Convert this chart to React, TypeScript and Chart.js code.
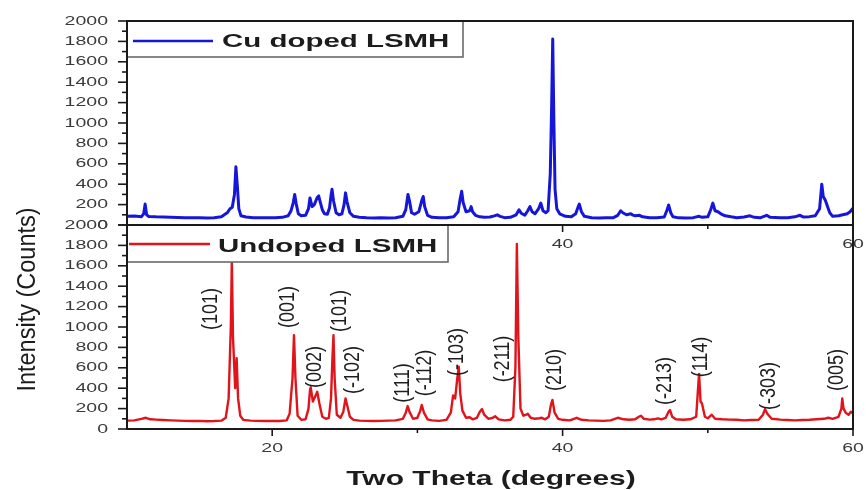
import React, { useEffect, useRef } from "react";
import { Chart, registerables } from "chart.js";
Chart.register(...registerables);

// ---------- data ----------
const cuTheta = [10.0, 10.5, 11.0, 11.15, 11.25, 11.35, 11.5, 12.0, 12.5, 13.0, 13.5, 14.0, 14.5, 15.0, 15.5, 16.0, 16.5, 16.9, 17.1, 17.25, 17.4, 17.5, 17.6, 17.7, 17.85, 18.2, 18.7, 19.2, 19.7, 20.2, 20.7, 21.1, 21.3, 21.45, 21.55, 21.65, 21.8, 22.0, 22.3, 22.5, 22.6, 22.75, 22.9, 23.1, 23.2, 23.3, 23.45, 23.6, 23.8, 23.95, 24.05, 24.12, 24.22, 24.4, 24.6, 24.8, 24.95, 25.05, 25.15, 25.35, 25.6, 26.0, 26.5, 27.0, 27.5, 28.0, 28.5, 29.0, 29.2, 29.35, 29.45, 29.6, 29.8, 30.1, 30.3, 30.4, 30.5, 30.7, 31.0, 31.5, 32.0, 32.5, 32.8, 32.95, 33.05, 33.15, 33.35, 33.6, 33.7, 33.8, 34.0, 34.3, 34.6, 35.0, 35.3, 35.5, 35.7, 36.0, 36.4, 36.8, 37.0, 37.15, 37.4, 37.6, 37.75, 37.9, 38.1, 38.35, 38.5, 38.65, 38.85, 39.0, 39.15, 39.25, 39.32, 39.4, 39.48, 39.6, 39.8, 40.2, 40.6, 40.9, 41.05, 41.15, 41.3, 41.5, 42.0, 42.5, 43.0, 43.5, 43.8, 44.0, 44.15, 44.4, 44.7, 44.8, 45.0, 45.3, 45.5, 46.0, 46.5, 47.0, 47.2, 47.3, 47.45, 47.6, 48.0, 48.5, 49.0, 49.4, 49.6, 50.0, 50.2, 50.35, 50.5, 50.7, 50.9, 51.2, 51.6, 52.0, 52.5, 52.9, 53.2, 53.6, 54.05, 54.3, 55.0, 55.5, 56.0, 56.35, 56.6, 57.0, 57.4, 57.7, 57.85, 57.95, 58.1, 58.25, 58.4, 58.6, 59.0, 59.3, 59.6, 59.8, 60.0];
const cuCounts = [85, 88, 82, 110, 205, 100, 84, 80, 78, 76, 74, 72, 70, 72, 68, 72, 80, 120, 160, 175, 300, 570, 380, 160, 90, 78, 72, 70, 70, 72, 75, 90, 140, 220, 300, 210, 110, 90, 95, 160, 265, 180, 200, 270, 285, 230, 150, 110, 105, 170, 290, 350, 240, 120, 100, 110, 200, 315, 230, 120, 85, 75, 70, 68, 70, 68, 72, 85, 150, 300, 240, 120, 105, 130, 240, 280, 180, 95, 75, 70, 72, 80, 130, 260, 330, 220, 130, 140, 180, 130, 95, 80, 75, 78, 90, 100, 85, 72, 75, 100, 150, 115, 95, 140, 180, 130, 110, 160, 215, 140, 120, 140, 500, 1200, 1823, 1000, 350, 160, 110, 85, 80, 110, 170, 205, 130, 85, 72, 68, 70, 72, 95, 140, 120, 100, 110, 100, 90, 95, 80, 70, 72, 78, 150, 196, 120, 80, 70, 68, 72, 85, 75, 80, 150, 215, 140, 130, 110, 90, 80, 72, 78, 90, 75, 70, 95, 75, 70, 72, 80, 95, 78, 82, 90, 160, 400, 280, 240, 180, 120, 85, 90, 100, 110, 130, 165];

const unTheta = [10.0, 10.5, 11.0, 11.3, 11.6, 12.0, 12.5, 13.0, 13.5, 14.0, 14.5, 15.0, 15.5, 16.0, 16.5, 16.8, 17.0, 17.15, 17.22, 17.3, 17.45, 17.55, 17.65, 17.8, 18.0, 18.5, 19.0, 19.5, 20.0, 20.5, 21.0, 21.2, 21.3, 21.4, 21.5, 21.6, 21.75, 22.0, 22.3, 22.5, 22.6, 22.65, 22.8, 23.0, 23.1, 23.25, 23.45, 23.7, 23.9, 24.05, 24.15, 24.22, 24.3, 24.45, 24.7, 24.9, 25.05, 25.15, 25.35, 25.6, 26.0, 26.5, 27.0, 27.5, 28.0, 28.5, 29.0, 29.2, 29.33, 29.45, 29.7, 30.0, 30.2, 30.3, 30.45, 30.7, 31.0, 31.5, 32.0, 32.3, 32.46, 32.6, 32.75, 32.85, 32.95, 33.1, 33.35, 33.6, 33.8, 34.1, 34.3, 34.45, 34.6, 34.9, 35.2, 35.35, 35.6, 36.0, 36.4, 36.6, 36.75, 36.85, 36.95, 37.1, 37.3, 37.5, 37.6, 37.8, 38.1, 38.4, 38.56, 38.8, 39.05, 39.2, 39.3, 39.45, 39.7, 40.0, 40.5, 40.97, 41.3, 41.8, 42.3, 42.8, 43.3, 43.8, 44.2, 44.6, 45.0, 45.25, 45.4, 45.6, 46.0, 46.3, 46.57, 46.8, 47.1, 47.3, 47.4, 47.55, 47.8, 48.3, 48.8, 49.2, 49.33, 49.4, 49.5, 49.6, 49.8, 50.0, 50.27, 50.5, 51.0, 51.5, 52.0, 52.5, 53.0, 53.5, 53.8, 53.94, 54.1, 54.4, 55.0, 55.5, 56.0, 56.5, 57.0, 57.5, 58.0, 58.3, 58.6, 59.0, 59.2, 59.26, 59.35, 59.5, 59.7, 59.85, 60.0];
const unCounts = [82, 85, 100, 110, 95, 92, 88, 85, 82, 80, 78, 80, 76, 78, 82, 110, 300, 1000, 1650, 900, 400, 695, 300, 130, 90, 82, 80, 78, 80, 78, 85, 150, 330, 500, 920, 500, 130, 90, 95, 200, 380, 410, 270, 330, 365, 250, 120, 100, 110, 300, 700, 920, 500, 140, 110, 170, 300, 240, 120, 90, 82, 80, 78, 80, 82, 85, 100, 160, 225, 170, 100, 110, 180, 235, 160, 95, 85, 80, 90, 160, 330, 300, 500, 610, 350, 180, 110, 115, 95, 110, 170, 195, 140, 100, 110, 125, 95, 85, 90, 120, 600, 1813, 900, 200, 130, 140, 150, 110, 100, 105, 110, 95, 120, 240, 285, 160, 100, 90, 85, 110, 90, 85, 82, 80, 85, 110, 95, 90, 95, 120, 130, 100, 92, 95, 105, 95, 110, 170, 185, 120, 95, 90, 95, 120, 400, 540, 270, 250, 120, 105, 140, 100, 95, 92, 90, 85, 88, 90, 140, 195, 150, 100, 92, 88, 85, 88, 90, 95, 100, 110, 100, 120, 200, 300, 200, 160, 140, 170, 150];

const yTickValues = [0, 200, 400, 600, 800, 1000, 1200, 1400, 1600, 1800, 2000];
const yMinorValues = [100, 300, 500, 700, 900, 1100, 1300, 1500, 1700, 1900];
const xMajorValues = [20, 40, 60];
const xMinorValues = [30, 50];

const peakLabels = ["(101)", "(001)", "(002)", "(101)", "(-102)", "(111)", "(-112)", "(-103)", "(-211)", "(210)", "(-213)", "(114)", "(-303)", "(005)"];
const peakTheta = [15.79, 21.09, 22.95, 24.67, 25.56, 29.01, 30.52, 32.73, 35.9, 39.48, 47.05, 49.53, 54.21, 58.9];
const peakCounts = [1176, 1196, 608, 1156, 578, 451, 549, 755, 686, 578, 470, 706, 421, 578];

const topLegend = "Cu doped LSMH";
const bottomLegend = "Undoped LSMH";
const xTitle = "Two Theta (degrees)";
const yTitle = "Intensity (Counts)";

// ---------- layout ----------
const W = 866;
const H = 490;
const PLOT_L = 127;
const PLOT_R = 853;
const TOP_T = 21;
const MID = 225;
const BOT_B = 429;
const X_AXIS_H = 20;

const BLUE = "#1616d8";
const RED = "#e0141a";
const AXIS = "#1a1a1a";
const TICK_TXT = "#3a3a3a";
const SANS = "'Liberation Sans', Arial, sans-serif";

function drawText(
  ctx: CanvasRenderingContext2D,
  text: string,
  x: number,
  y: number,
  o: { font: string; sx?: number; sy?: number; align?: CanvasTextAlign; baseline?: CanvasTextBaseline; color?: string; rotate?: number }
) {
  ctx.save();
  ctx.translate(x, y);
  if (o.rotate) ctx.rotate(o.rotate);
  ctx.scale(o.sx ?? 1, o.sy ?? 1);
  ctx.font = o.font;
  ctx.fillStyle = o.color ?? "#222";
  ctx.textAlign = o.align ?? "left";
  ctx.textBaseline = o.baseline ?? "alphabetic";
  ctx.fillText(text, 0, 0);
  ctx.restore();
}

function line(ctx: CanvasRenderingContext2D, x1: number, y1: number, x2: number, y2: number) {
  ctx.beginPath();
  ctx.moveTo(x1, y1);
  ctx.lineTo(x2, y2);
  ctx.stroke();
}

type PanelCfg = {
  legend: string;
  color: string;
  box: { right: number; bottom: number; lineFrom: number; lineTo: number; lineY: number; textX: number; textBase: number };
  isBottom: boolean;
};

function makePlugin(cfg: PanelCfg) {
  return {
    id: "panelDecor",
    afterDraw(chart: any) {
      const ctx: CanvasRenderingContext2D = chart.ctx;
      const xs = chart.scales.x;
      const ys = chart.scales.y;
      const { left, right, top, bottom } = chart.chartArea;
      ctx.save();

      // legend box
      ctx.fillStyle = "#fff";
      ctx.fillRect(left, top, cfg.box.right - left, cfg.box.bottom - top);
      ctx.strokeStyle = "#6a6a6a";
      ctx.lineWidth = 1.6;
      ctx.strokeRect(left, top, cfg.box.right - left, cfg.box.bottom - top);
      ctx.strokeStyle = cfg.color;
      ctx.lineWidth = 2.5;
      line(ctx, cfg.box.lineFrom, cfg.box.lineY, cfg.box.lineTo, cfg.box.lineY);
      drawText(ctx, cfg.legend, cfg.box.textX, cfg.box.textBase, {
        font: `bold 19px ${SANS}`,
        sx: 1.55,
        color: "#1c1c1c",
      });

      // frame
      ctx.strokeStyle = AXIS;
      ctx.lineWidth = 2;
      ctx.strokeRect(left, top, right - left, bottom - top);

      // y ticks
      ctx.lineWidth = 1.6;
      yTickValues.forEach((v) => {
        const py = ys.getPixelForValue(v);
        line(ctx, left - 9, py, left, py);
        drawText(ctx, String(v), left - 19, py, {
          font: `13px ${SANS}`,
          sx: 1.5,
          align: "right",
          baseline: "middle",
          color: TICK_TXT,
        });
      });
      yMinorValues.forEach((v) => {
        const py = ys.getPixelForValue(v);
        line(ctx, left - 5, py, left + 1, py);
      });

      // x ticks
      xMajorValues.forEach((v) => {
        const px = xs.getPixelForValue(v);
        line(ctx, px, bottom, px, bottom + 7);
        drawText(ctx, String(v), px, bottom + 19, {
          font: `13px ${SANS}`,
          sx: 1.5,
          align: "center",
          baseline: "middle",
          color: TICK_TXT,
        });
      });
      xMinorValues.forEach((v) => {
        const px = xs.getPixelForValue(v);
        line(ctx, px, bottom, px, bottom + 4);
      });

      if (cfg.isBottom) {
        // peak labels
        peakLabels.forEach((lab, i) => {
          const px = xs.getPixelForValue(peakTheta[i]);
          const py = ys.getPixelForValue(peakCounts[i]);
          drawText(ctx, lab, px, py, {
            font: `18px ${SANS}`,
            rotate: -Math.PI / 2,
            sy: 1.2,
            align: "center",
            baseline: "middle",
            color: "#1e1e1e",
          });
        });
        // axis titles
        drawText(ctx, xTitle, (PLOT_L + PLOT_R) / 2 + 1, 485, {
          font: `bold 20px ${SANS}`,
          sx: 1.5,
          align: "center",
          baseline: "alphabetic",
          color: "#1c1c1c",
        });
        drawText(ctx, yTitle, 35, 299.5, {
          font: `23.5px ${SANS}`,
          rotate: -Math.PI / 2,
          sy: 1.12,
          align: "center",
          baseline: "alphabetic",
          color: "#1c1c1c",
        });
      }
      ctx.restore();
    },
  };
}

function makeConfig(theta: number[], counts: number[], color: string, width: number, padTop: number, padBottom: number, plugin: any): any {
  return {
    type: "line",
    data: {
      datasets: [
        {
          data: theta.map((t, i) => ({ x: t, y: counts[i] })),
          borderColor: color,
          borderWidth: width,
          pointRadius: 0,
          tension: 0,
          fill: false,
          borderJoinStyle: "round",
        },
      ],
    },
    options: {
      responsive: false,
      maintainAspectRatio: false,
      animation: false,
      devicePixelRatio: 1,
      events: [],
      layout: { padding: { left: 0, right: W - PLOT_R, top: padTop, bottom: padBottom } },
      plugins: { legend: { display: false }, title: { display: false }, tooltip: { enabled: false } },
      scales: {
        x: {
          type: "linear",
          min: 10,
          max: 60,
          grid: { display: false },
          border: { display: false },
          ticks: { display: false },
          afterFit: (s: any) => {
            s.height = X_AXIS_H;
          },
        },
        y: {
          type: "linear",
          min: 0,
          max: 2000,
          grid: { display: false },
          border: { display: false },
          ticks: { display: false },
          afterFit: (s: any) => {
            s.width = PLOT_L;
          },
        },
      },
    },
    plugins: [plugin],
  };
}

export default function App() {
  const topRef = useRef<HTMLCanvasElement>(null);
  const botRef = useRef<HTMLCanvasElement>(null);

  useEffect(() => {
    const topPlugin = makePlugin({
      legend: topLegend,
      color: BLUE,
      box: { right: 463, bottom: 57, lineFrom: 133, lineTo: 213, lineY: 41, textX: 222, textBase: 47 },
      isBottom: false,
    });
    const botPlugin = makePlugin({
      legend: bottomLegend,
      color: RED,
      box: { right: 448, bottom: 262, lineFrom: 129, lineTo: 210, lineY: 244, textX: 218, textBase: 252 },
      isBottom: true,
    });
    const c1 = new Chart(
      topRef.current as HTMLCanvasElement,
      makeConfig(cuTheta, cuCounts, BLUE, 3, TOP_T, H - MID - X_AXIS_H, topPlugin)
    );
    const c2 = new Chart(
      botRef.current as HTMLCanvasElement,
      makeConfig(unTheta, unCounts, RED, 2.4, MID, H - BOT_B - X_AXIS_H, botPlugin)
    );
    return () => {
      c1.destroy();
      c2.destroy();
    };
  }, []);

  return (
    <div style={{ position: "fixed", left: 0, top: 0, width: W, height: H, background: "#fff", overflow: "hidden" }}>
      <canvas ref={topRef} width={W} height={H} style={{ position: "absolute", left: 0, top: 0 }} />
      <canvas ref={botRef} width={W} height={H} style={{ position: "absolute", left: 0, top: 0 }} />
    </div>
  );
}
